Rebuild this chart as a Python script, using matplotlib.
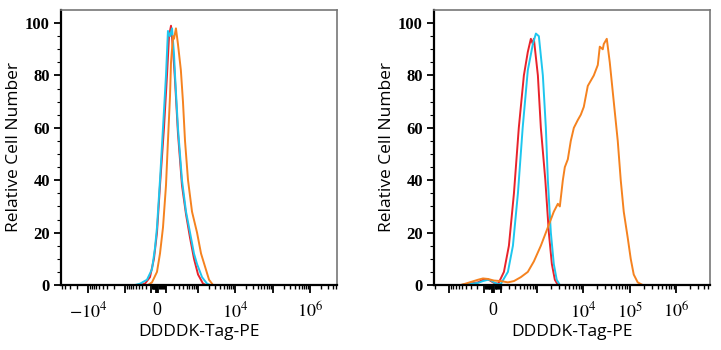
import numpy as np
import matplotlib
matplotlib.use("Agg")
import matplotlib.pyplot as plt
from matplotlib.ticker import FixedLocator, FixedFormatter

plt.rcParams['mathtext.fontset'] = 'stix'

RED = '#e8232b'
BLUE = '#1ec6ee'
ORANGE = '#f5821f'

# left panel (control) - intensity values / relative counts
left_red_x = [-52000, -358, -233, -128, -54, 0, 31, 74, 109, 135, 162, 192, 225, 279, 369, 481, 623, 800, 1029, 1403, 1688, 5.2e6]
left_red_y = [0, 0, 0.5, 3, 10, 20, 38, 60, 80, 95, 99, 90, 78, 58, 38, 27, 18, 10, 4, 0.5, 0, 0]
left_blue_x = [-52000, -520, -358, -189, -90, -36, 0, 31, 63, 97, 121, 148, 177, 208, 225, 279, 369, 481, 623, 800, 967, 1318, 1795, 2159, 5.2e6]
left_blue_y = [0, 0, 0.5, 2, 6, 14, 22, 40, 60, 80, 97, 95, 98, 88, 80, 60, 40, 28, 20, 12, 8, 3, 0.5, 0, 0]
left_orange_x = [-52000, -168, -90, 0, 31, 63, 97, 121, 148, 162, 192, 208, 241, 279, 342, 394, 451, 548, 706, 967, 1239, 1587, 2031, 2590, 5.2e6]
left_orange_y = [0, 0, 1, 5, 12, 22, 38, 55, 72, 85, 95, 94, 98, 92, 82, 70, 55, 40, 28, 20, 12, 7, 2, 0, 0]

# right panel (transfected)
right_red_x = [-2120, -534, -186, -118, -57, -23, 11, 57, 69, 131, 201, 284, 381, 506, 625, 733, 813, 856, 1051, 1221, 1530, 1823, 2120, 2460, 2856, 5.4e6]
right_red_y = [0, 0, 1, 2, 2.2, 1.5, 0.8, 0.5, 1, 5, 15, 35, 60, 80, 89, 94, 92, 94, 80, 60, 40, 20, 8, 2, 0, 0]
right_blue_x = [-2120, -534, -186, -118, -57, -23, 11, 57, 93, 186, 266, 362, 474, 625, 813, 950, 1104, 1351, 1571, 1736, 2015, 2336, 2700, 3153, 5.4e6]
right_blue_y = [0, 0, 0.8, 1.5, 2, 1.8, 1, 0.3, 0.5, 5, 15, 35, 60, 82, 92, 96, 95, 80, 60, 40, 20, 8, 2, 0, 0]
right_orange_x = [-2120, -534, -362, -186, -118, -57, -23, 11, 93, 186, 284, 428, 625, 856, 1221, 1736, 2336, 2856, 3153,
                  3659, 4040, 4688, 5427, 6320, 7694, 8920, 10351, 12618, 14633, 16992, 20725, 22877, 26518, 27870,
                  32358, 34007, 37533, 45731, 55762, 64670, 75043, 91463, 106073, 123088, 150018, 192085, 5.4e6]
right_orange_y = [0, 0, 0.8, 2, 2.5, 2.3, 2, 1.7, 1.5, 1, 1.5, 3, 5, 9, 15, 22, 28, 31, 30,
                  40, 45, 48, 55, 60, 63, 65, 68, 76, 78, 80, 84, 91, 90, 92,
                  94, 91, 85, 70, 55, 40, 28, 18, 10, 4, 1, 0, 0]

left_labels = {-1e4: r'$-10^4$', 0: '0', 1e4: r'$10^4$', 1e6: r'$10^6$'}
right_labels = {0: '0', 1e4: r'$10^4$', 1e5: r'$10^5$', 1e6: r'$10^6$'}


def make_scale(cp, cn):
    def fwd(x):
        x = np.asarray(x, dtype=float)
        return np.where(x >= 0, np.arcsinh(x / cp), np.arcsinh(x / cn))

    def inv(y):
        y = np.asarray(y, dtype=float)
        return np.where(y >= 0, cp * np.sinh(y), cn * np.sinh(y))
    return fwd, inv


def style_axes(ax, xlim, labels, cp, cn):
    ax.set_xscale('function', functions=make_scale(cp, cn))
    ax.set_xlim(*xlim)
    ax.set_ylim(0, 105)

    decades = [10.0 ** n for n in range(1, 7)]
    major = [0] + decades + [-d for d in decades]
    major = sorted(m for m in major if xlim[0] <= m <= xlim[1])
    minor = []
    for n in range(1, 7):
        for k in range(2, 10):
            for s in (1, -1):
                v = s * k * 10.0 ** n
                if xlim[0] <= v <= xlim[1]:
                    minor.append(v)
    ax.xaxis.set_major_locator(FixedLocator(major))
    ax.xaxis.set_major_formatter(FixedFormatter([labels.get(m, '') for m in major]))
    ax.xaxis.set_minor_locator(FixedLocator(minor))

    ax.set_yticks([0, 20, 40, 60, 80, 100])
    ax.set_yticks(np.arange(0, 105, 5), minor=True)

    ax.tick_params(axis='x', which='major', length=6, width=1.3, pad=6, labelsize=13, color='black')
    ax.tick_params(axis='x', which='minor', length=3, width=1.0, color='black')
    ax.tick_params(axis='y', which='major', length=5, width=1.3, labelsize=12, pad=3)
    ax.tick_params(axis='y', which='minor', length=3, width=0.8)
    for lab in ax.get_yticklabels():
        lab.set_fontfamily('Liberation Serif')
        lab.set_fontweight('bold')
    for lab in ax.get_xticklabels():
        lab.set_fontfamily('Liberation Serif')

    for side in ('top', 'right'):
        ax.spines[side].set_color('#777777')
        ax.spines[side].set_linewidth(1.2)
    for side in ('left', 'bottom'):
        ax.spines[side].set_color('black')
        ax.spines[side].set_linewidth(1.6)

    ax.set_xlabel('DDDDK-Tag-PE', fontsize=12.5, family='Open Sans', labelpad=2)
    ax.set_ylabel('Relative Cell Number', fontsize=12.5, family='Open Sans', labelpad=2)


fig = plt.figure(figsize=(7.21, 3.5), dpi=100)
ax1 = fig.add_axes([61 / 721, 65 / 350, 276 / 721, 275 / 350])
ax2 = fig.add_axes([434 / 721, 65 / 350, 276 / 721, 275 / 350])

ax1.plot(left_red_x, left_red_y, color=RED, lw=1.4)
ax1.plot(left_blue_x, left_blue_y, color=BLUE, lw=1.4)
ax1.plot(left_orange_x, left_orange_y, color=ORANGE, lw=1.4)
style_axes(ax1, (-52000, 5.2e6), left_labels, 167, 289)

ax2.plot(right_red_x, right_red_y, color=RED, lw=1.4)
ax2.plot(right_blue_x, right_blue_y, color=BLUE, lw=1.4)
ax2.plot(right_orange_x, right_orange_y, color=ORANGE, lw=1.4)
style_axes(ax2, (-2120, 5.4e6), right_labels, 229, 229)

fig.savefig('out.png', dpi=100)
